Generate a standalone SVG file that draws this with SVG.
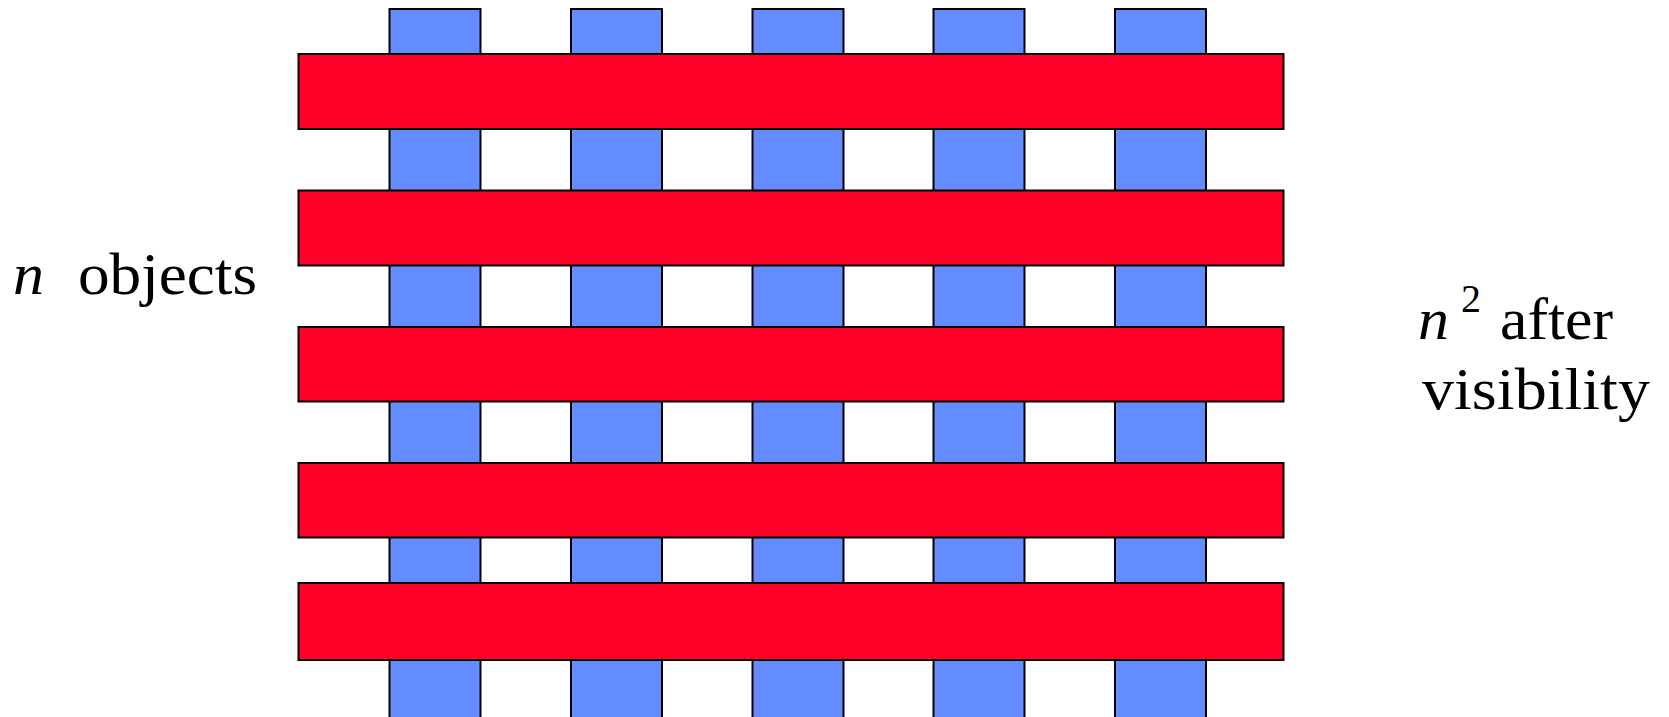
<svg xmlns="http://www.w3.org/2000/svg" width="1669" height="717" viewBox="0 0 1669 717">
<style>
.col{fill:#628cff;stroke:#000;stroke-width:2}
.bar{fill:#ff0029;stroke:#000;stroke-width:2}
.t{font-family:"Liberation Serif",serif;font-size:59px;fill:#000}
.it{font-style:italic}
</style>
<rect width="1669" height="717" fill="#fff"/>
<g id="columns">
<rect id="col1" class="col" x="389.5" y="9" width="91" height="720"/>
<rect id="col2" class="col" x="571" y="9" width="91" height="720"/>
<rect id="col3" class="col" x="752.5" y="9" width="91" height="720"/>
<rect id="col4" class="col" x="933.5" y="9" width="91" height="720"/>
<rect id="col5" class="col" x="1115" y="9" width="91" height="720"/>
</g>
<g id="bars">
<rect id="bar1" class="bar" x="298.5" y="54" width="985" height="75"/>
<rect id="bar2" class="bar" x="298.5" y="190.5" width="985" height="75"/>
<rect id="bar3" class="bar" x="298.5" y="327" width="985" height="74.5"/>
<rect id="bar4" class="bar" x="298.5" y="463" width="985" height="74.5"/>
<rect id="bar5" class="bar" x="298.5" y="583" width="985" height="77"/>
</g>
<g id="labels">
<text class="t" x="13" y="294" textLength="31" lengthAdjust="spacingAndGlyphs"><tspan class="it">n</tspan></text>
<text class="t" x="78" y="294" textLength="179" lengthAdjust="spacingAndGlyphs">objects</text>
<text class="t" x="1418" y="339" textLength="31" lengthAdjust="spacingAndGlyphs"><tspan class="it">n</tspan></text>
<text class="t" x="1461" y="312" style="font-size:40px">2</text>
<text class="t" x="1500" y="339" textLength="113" lengthAdjust="spacingAndGlyphs">after</text>
<text class="t" x="1422" y="409" textLength="228" lengthAdjust="spacingAndGlyphs">visibility</text>
</g>
</svg>
